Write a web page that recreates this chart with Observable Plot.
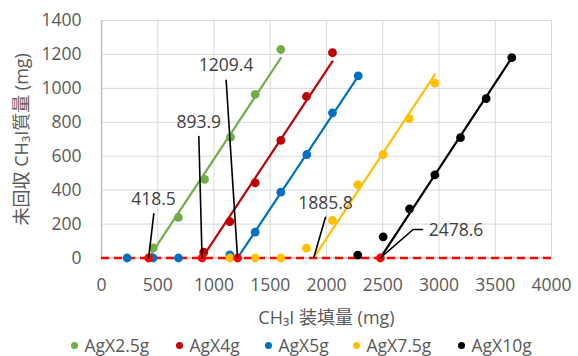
<!DOCTYPE html>
<html><head><meta charset="utf-8">
<script src="https://cdn.jsdelivr.net/npm/d3@7"></script>
<script src="https://cdn.jsdelivr.net/npm/@observablehq/plot@0.6"></script>
<style>
body{margin:0;background:#fff;font-family:"Open Sans","Noto Sans CJK JP",sans-serif;}
#chart{width:578px;height:356px;position:relative;overflow:hidden;}
#legend{position:absolute;left:0;top:332px;height:26px;width:578px;font-size:17.5px;color:#595959;line-height:26px;white-space:nowrap;}
#legend .it{position:absolute;top:0;}
#legend .dot{position:absolute;width:7px;height:7px;border-radius:50%;top:10px;}
#legend .lb{position:absolute;top:0;}
</style></head><body><div id="chart"></div><script>
// series
const seriesNames = ["AgX2.5g","AgX4g","AgX5g","AgX7.5g","AgX10g"];
const seriesColors = ["#70AD47","#C00000","#0070C0","#FFC000","#000000"];
const x_AgX2_5 = [459, 684, 916, 1147, 1366, 1594];
const y_AgX2_5 = [60, 240, 463, 712, 964, 1229];
const x_AgX4 = [909, 1141, 1366, 1594, 1822, 2053];
const y_AgX4 = [34, 215, 443, 693, 952, 1210];
const x_AgX5 = [228, 459, 684, 1141, 1366, 1594, 1825, 2053, 2282];
const y_AgX5 = [0, 0, 0, 19, 152, 388, 610, 856, 1074];
const x_AgX7_5 = [1141, 1366, 1594, 1822, 2053, 2278, 2504, 2735, 2963];
const y_AgX7_5 = [0, 0, 0, 58, 221, 432, 610, 822, 1031];
const x_AgX10 = [2278, 2504, 2738, 2963, 3191, 3419, 3647];
const y_AgX10 = [17, 125, 290, 490, 709, 939, 1181];
// fitted lines: x-intercept and slope
const intercepts = [418.5, 893.9, 1209.4, 1885.8, 2478.6];
const slopes = [1.003, 1.0, 1.0, 1.004, 1.01];
const interceptLabels = ["418.5", "893.9", "1209.4", "1885.8", "2478.6"];
const interceptMarked = [true, true, true, false, true];
// ticks
const xTicks = [0, 500, 1000, 1500, 2000, 2500, 3000, 3500, 4000];
const yTicks = [0, 200, 400, 600, 800, 1000, 1200, 1400];
const xTitle = "CH\u2083I 装填量 (mg)";
const yTitle = "未回収 CH\u2083I質量 (mg)";
// annotation anchor points (data units)
const labelCenters = [[462, 343], [865, 802], [1108, 1133], [1991, 321], [3151, 164]];
const leaderPaths = [
  [[465, 260]],
  [[865, 716]],
  [[1108, 1047]],
  [[1991, 240]],
  [[2770, 168], [2853, 168]]
];

const xs = [x_AgX2_5, x_AgX4, x_AgX5, x_AgX7_5, x_AgX10];
const ys = [y_AgX2_5, y_AgX4, y_AgX5, y_AgX7_5, y_AgX10];
const points = [];
seriesNames.forEach((s, i) => xs[i].forEach((x, j) => points.push({series: s, x, y: ys[i][j]})));
const fits = [];
seriesNames.forEach((s, i) => {
  const xmax = d3.max(xs[i]);
  fits.push({series: s, x: intercepts[i], y: 0});
  fits.push({series: s, x: xmax, y: slopes[i] * (xmax - intercepts[i])});
});
const marked = intercepts.filter((v, i) => interceptMarked[i]).map(v => ({x: v, y: 0}));
const leaders = [];
intercepts.forEach((v, i) => {
  leaders.push({k: i, x: v, y: 0});
  leaderPaths[i].forEach(p => leaders.push({k: i, x: p[0], y: p[1]}));
});
const labels = interceptLabels.map((t, i) => ({t, x: labelCenters[i][0], y: labelCenters[i][1]}));

const plot = Plot.plot({
  width: 578, height: 332,
  marginLeft: 101, marginRight: 27, marginTop: 20, marginBottom: 74.5,
  style: {fontFamily: "'Open Sans', 'Noto Sans CJK JP', sans-serif", fontSize: "17.5px", color: "#595959", background: "#fff"},
  x: {domain: [0, 4000], label: null},
  y: {domain: [0, 1400], label: null},
  color: {domain: seriesNames, range: seriesColors},
  marks: [
    Plot.ruleX(xTicks.slice(1), {stroke: "#d9d9d9", strokeWidth: 1}),
    Plot.ruleY(yTicks.slice(1), {stroke: "#d9d9d9", strokeWidth: 1}),
    Plot.ruleX([0], {stroke: "#bfbfbf", strokeWidth: 1.5}),
    Plot.ruleY([0], {stroke: "#bfbfbf", strokeWidth: 1.5}),
    Plot.axisX({ticks: xTicks, tickSize: 0, tickPadding: 21, tickFormat: d => String(d), fontSize: 17.5, label: null}),
    Plot.axisY({ticks: yTicks, tickSize: 0, tickPadding: 20, tickFormat: d => String(d), fontSize: 17.5, label: null}),
    Plot.text([xTitle], {frameAnchor: "bottom", dy: 60.5, textAnchor: "middle", lineAnchor: "middle", fontSize: 18, fill: "#595959"}),
    Plot.text([yTitle], {frameAnchor: "left", dx: -79, rotate: -90, textAnchor: "middle", lineAnchor: "middle", fontSize: 18, fill: "#595959"}),
    Plot.ruleY([0], {stroke: "#ff0000", strokeWidth: 2.5, strokeDasharray: "8,5"}),
    Plot.line(fits, {x: "x", y: "y", z: "series", stroke: "series", strokeWidth: 2.2}),
    Plot.dot(points, {x: "x", y: "y", fill: "series", r: 4.4}),
    Plot.dot(marked, {x: "x", y: "y", fill: "#ff0000", r: 4.4}),
    Plot.line(leaders, {x: "x", y: "y", z: "k", stroke: "#000", strokeWidth: 1.6}),
    Plot.text(labels, {x: "x", y: "y", text: "t", fontSize: 17.5, fill: "#404040", lineAnchor: "middle"})
  ]
});
const chart = document.getElementById("chart");
chart.appendChild(plot);
const leg = document.createElement("div");
leg.id = "legend";
const dotX = [74, 179, 268, 356, 461];
seriesNames.forEach((s, i) => {
  const it = document.createElement("div");
  it.className = "it";
  it.style.left = (dotX[i] - 3.5) + "px";
  const d = document.createElement("div");
  d.className = "dot"; d.style.background = seriesColors[i]; d.style.left = "0px";
  const l = document.createElement("div");
  l.className = "lb"; l.textContent = s; l.style.left = "14px";
  it.appendChild(d); it.appendChild(l);
  leg.appendChild(it);
});
chart.appendChild(leg);
</script></body></html>
